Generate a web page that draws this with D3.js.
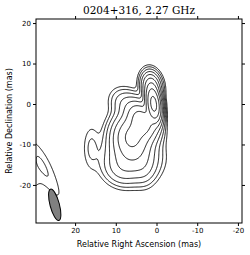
<!DOCTYPE html>
<html>
<head>
<meta charset="utf-8">
<script src="https://cdn.jsdelivr.net/npm/d3@7"></script>
<style>
  body { margin: 0; background: #fff; }
  svg { display: block; }
</style>
</head>
<body>
<div id="map"></div>
<script>
// chart values
var title = "0204+316, 2.27 GHz";
var xTicks = [20, 10, 0, -10, -20];
var yTicks = [20, 10, 0, -10, -20];

// gaussian model components (mas, relative flux, FWHM mas, PA deg)
var compRA   = [0.7, 1.3, 3.5, 6.0, 6.0, 9.0, 3.0, 7.5, 16.0, 32.5, 27.2];
var compDec  = [0.0, 4.5, -4.0, -8.0, -13.5, -16.5, -16.0, 0.0, -10.8, -17.0, -16.5];
var compFlux = [1.0, 0.12, 0.25, 0.22, 0.06, 0.015, 0.012, 0.022, 0.007, 0.0052, 0.0045];
var compMaj  = [5.5, 4.5, 6.0, 7.0, 8.0, 6.0, 6.0, 5.5, 8.0, 10.0, 16.0];
var compMin  = [2.2, 3.0, 4.0, 6.0, 7.0, 5.0, 4.0, 4.5, 3.0, 9.0, 3.0];
var compPA   = [8, 10, 30, 0, 90, 60, 0, 45, 0, 0, 27];

// contour levels (fraction of peak)
var levels = [0.003, 0.006, 0.012, 0.024, 0.048, 0.096, 0.19, 0.38, 0.77];

// restoring beam
var beamRA = 25.0, beamDec = -24.9, beamMaj = 8.0, beamMin = 2.3, beamPA = 15;

// margins
var svgWidth = 250;
var svgHeight = 255;
var margin = { top: 19, right: 8, bottom: 32, left: 36 };
var width = svgWidth - margin.left - margin.right;
var height = svgHeight - margin.top - margin.bottom;

var svg = d3.select("#map")
  .append("svg")
  .attr("width", svgWidth)
  .attr("height", svgHeight);

var chartGroup = svg.append("g")
  .attr("transform", `translate(${margin.left}, ${margin.top})`);

var xScale = d3.scaleLinear().domain([29.6, -21]).range([0, width]);
var yScale = d3.scaleLinear().domain([-29.4, 21]).range([height, 0]);

// model field on a grid
var raMin = -25, raMax = 38, decMin = -36, decMax = 26, step = 0.2;
var nx = Math.round((raMax - raMin) / step) + 1;
var ny = Math.round((decMax - decMin) / step) + 1;
var field = new Float64Array(nx * ny);
var k4 = 4 * Math.LN2;
for (var j = 0; j < ny; j++) {
  var dec = decMin + j * step;
  for (var i = 0; i < nx; i++) {
    var ra = raMin + i * step;
    var v = 0;
    for (var c = 0; c < compRA.length; c++) {
      var p = compPA[c] * Math.PI / 180;
      var dx = ra - compRA[c], dy = dec - compDec[c];
      var u = dx * Math.sin(p) + dy * Math.cos(p);
      var w = dx * Math.cos(p) - dy * Math.sin(p);
      v += compFlux[c] * Math.exp(-k4 * (u * u / (compMaj[c] * compMaj[c]) + w * w / (compMin[c] * compMin[c])));
    }
    field[j * nx + i] = v;
  }
}

var contours = d3.contours().size([nx, ny]).thresholds(levels)(field);

var gridToScreen = d3.geoTransform({
  point: function(gx, gy) {
    this.stream.point(xScale(raMin + (gx - 0.5) * step), yScale(decMin + (gy - 0.5) * step));
  }
});
var path = d3.geoPath(gridToScreen);

chartGroup.append("clipPath").attr("id", "clip")
  .append("rect").attr("width", width).attr("height", height);

var plot = chartGroup.append("g").attr("clip-path", "url(#clip)");

plot.selectAll("path.contour")
  .data(contours)
  .enter()
  .append("path")
  .attr("class", "contour")
  .attr("d", path)
  .attr("fill", "none")
  .attr("stroke", "#000")
  .attr("stroke-width", 0.9);

// beam
var kx = Math.abs(xScale(0) - xScale(1));
var ky = Math.abs(yScale(0) - yScale(1));
plot.append("ellipse")
  .attr("transform", `translate(${xScale(beamRA)}, ${yScale(beamDec)}) rotate(${-beamPA})`)
  .attr("rx", beamMin / 2 * kx)
  .attr("ry", beamMaj / 2 * ky)
  .attr("fill", "#808080")
  .attr("stroke", "#000")
  .attr("stroke-width", 1);

// axes
var fmt = d => String(d);
var axisFont = "DejaVu Sans, sans-serif";

var bottomAxis = chartGroup.append("g")
  .attr("transform", `translate(0, ${height})`)
  .call(d3.axisBottom(xScale).tickValues(xTicks).tickFormat(fmt).tickSizeInner(3).tickSizeOuter(0).tickPadding(2));
var topAxis = chartGroup.append("g")
  .call(d3.axisTop(xScale).tickValues(xTicks).tickFormat("").tickSizeInner(3).tickSizeOuter(0));
var leftAxis = chartGroup.append("g")
  .call(d3.axisLeft(yScale).tickValues(yTicks).tickFormat(fmt).tickSizeInner(3).tickSizeOuter(0).tickPadding(2));
var rightAxis = chartGroup.append("g")
  .attr("transform", `translate(${width}, 0)`)
  .call(d3.axisRight(yScale).tickValues(yTicks).tickFormat("").tickSizeInner(3).tickSizeOuter(0));

chartGroup.selectAll(".domain").remove();
chartGroup.selectAll(".tick line").attr("stroke", "#000").attr("stroke-width", 1);
chartGroup.selectAll(".tick text")
  .attr("font-family", axisFont)
  .attr("font-size", "7px")
  .attr("fill", "#000");

// frame
chartGroup.append("rect")
  .attr("width", width)
  .attr("height", height)
  .attr("fill", "none")
  .attr("stroke", "#000")
  .attr("stroke-width", 1);

// labels
svg.append("text")
  .attr("x", margin.left + width / 2)
  .attr("y", 14)
  .attr("text-anchor", "middle")
  .attr("font-family", "DejaVu Serif, serif")
  .attr("font-size", "10.5px")
  .text(title);

svg.append("text")
  .attr("x", margin.left + width / 2)
  .attr("y", 247)
  .attr("text-anchor", "middle")
  .attr("font-family", axisFont)
  .attr("font-size", "8px")
  .text("Relative Right Ascension (mas)");

svg.append("text")
  .attr("transform", `translate(12, ${margin.top + height / 2}) rotate(-90)`)
  .attr("text-anchor", "middle")
  .attr("font-family", axisFont)
  .attr("font-size", "8px")
  .text("Relative Declination (mas)");
</script>
</body>
</html>
